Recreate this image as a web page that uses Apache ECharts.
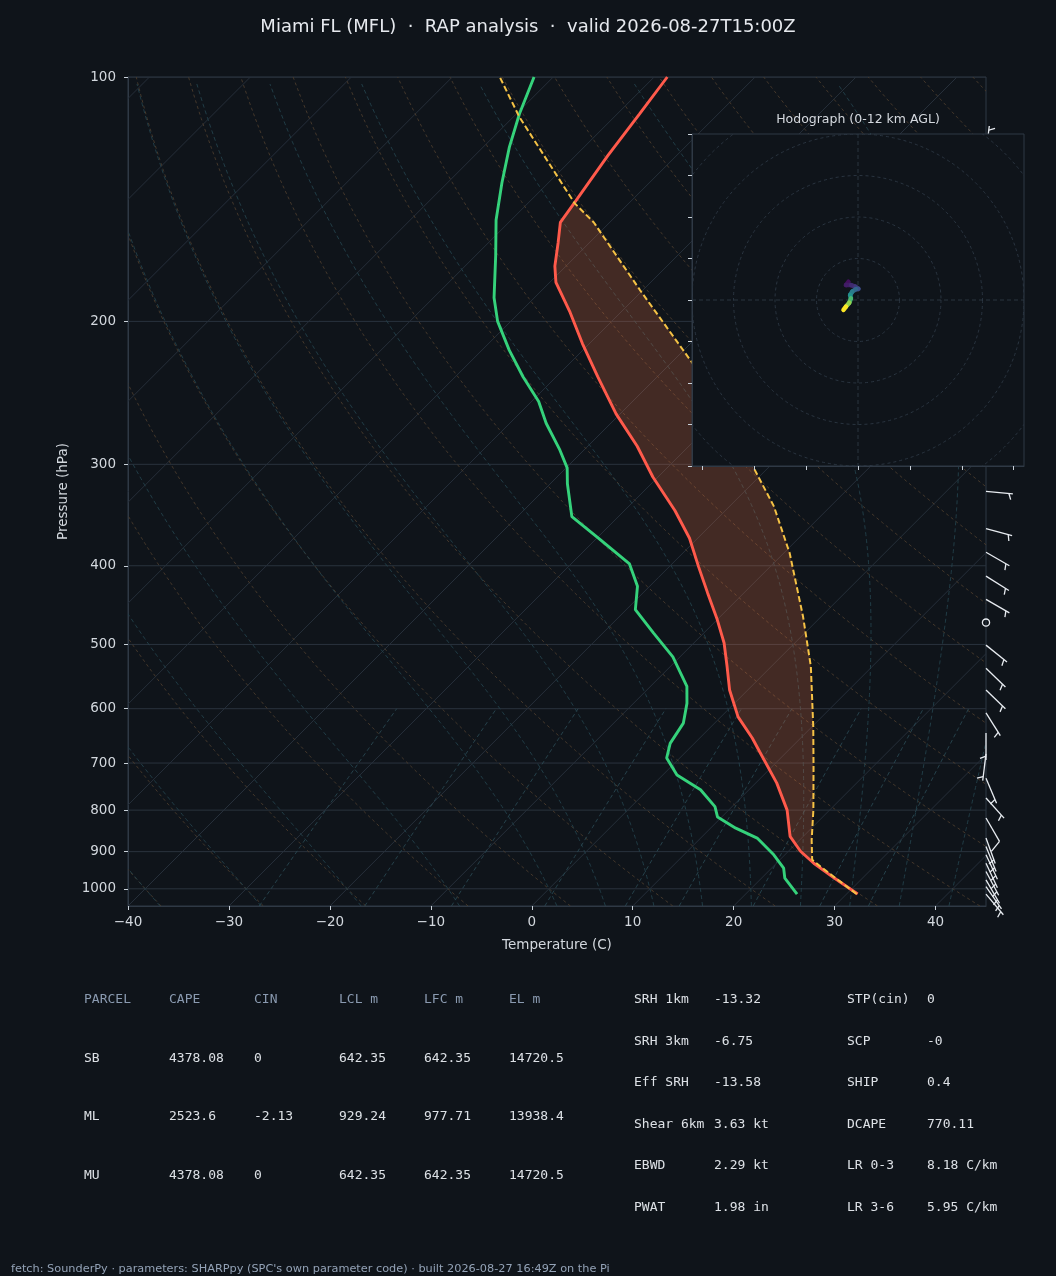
<!DOCTYPE html>
<html>
<head>
<meta charset="utf-8">
<title>Miami FL skew-T</title>
<script src="https://cdn.jsdelivr.net/npm/echarts@6/dist/echarts.min.js"></script>
<style>
  html, body { margin: 0; padding: 0; background: #0f141a; }
  #chart { width: 1056px; height: 1276px; }
</style>
</head>
<body>
<div id="chart"></div>
<script>
// ---- sounding (hPa / degC) ----
const tempP = [1015, 970, 930, 899, 862, 800, 741, 678, 652, 614, 569, 532, 498, 466, 432, 401, 370, 342, 311, 285, 260, 234, 213, 195, 179, 171, 160, 151, 142, 125, 111, 100];
const tempC = [31.1, 27.2, 23.7, 21.2, 18.7, 15.8, 12.1, 7.3, 5.2, 1.7, -1.8, -4.4, -7.0, -10.0, -13.6, -17.1, -20.8, -25.0, -30.5, -35.1, -40.4, -45.9, -50.7, -55.0, -59.4, -61.1, -63.1, -64.9, -65.5, -66.8, -67.8, -68.7];

const dewP = [1015, 970, 943, 908, 866, 842, 816, 792, 755, 724, 690, 662, 625, 591, 563, 518, 484, 453, 424, 398, 370, 348, 317, 303, 288, 267, 251, 234, 217, 200, 187, 166, 150, 135, 122, 111, 100];
const dewC = [25.1, 22.3, 21.2, 18.9, 15.6, 12.5, 9.6, 8.3, 5.2, 1.4, -1.3, -2.4, -3.1, -4.7, -6.4, -10.7, -15.0, -19.1, -21.2, -24.2, -29.8, -34.6, -38.3, -39.9, -42.4, -46.4, -49.3, -53.3, -57.3, -61.3, -64.0, -68.0, -71.5, -74.6, -77.4, -79.7, -81.9];

// surface-based parcel path
const parcelP = [1015, 939, 921, 871, 800, 707, 631, 532, 462, 386, 338, 302, 225, 183, 151, 143, 112, 100];
const parcelC = [31.0, 24.7, 23.2, 21.2, 18.4, 14.1, 10.1, 3.9, -1.8, -9.4, -15.6, -21.6, -37.9, -50.3, -61.6, -65.4, -79.4, -85.3];
const lfcP = 921;
const elP = 143;

// wind barbs (direction from, knots)
const windP   = [1015, 994, 975, 952, 930, 908, 887, 866, 818, 773, 731, 682, 643, 607, 569, 535, 501, 470, 440, 412, 385, 360, 324, 280, 250, 200, 150, 124];
const windDir = [140, 145, 150, 152, 155, 155, 158, 160, 150, 138, 157, 187, 180, 148, 134, 134, 129, 0, 120, 122, 120, 105, 95, 100, 105, 110, 130, 7];
const windKt  = [5, 5, 5, 5, 5, 5, 5, 5, 10, 5, 5, 5, 5, 5, 5, 5, 5, 0, 5, 5, 5, 5, 5, 5, 5, 5, 5, 5];

// hodograph, 0-12 km (kt)
const hodoU = [-2.3, -2.9, -1.7, -0.65, 0.1, -0.5, -1.4, -1.9, -1.7, -2.1, -2.9, -3.5];
const hodoV = [4.4, 3.6, 3.6, 3.2, 2.7, 2.6, 2.0, 1.2, 0.4, -0.65, -1.6, -2.4];
const hodoH = [0, 0.5, 1, 1.5, 2, 3, 4, 5, 6, 8, 10, 12];
const hodoRings = [10, 20, 30, 40, 50];

// axis ticks
const pressureTicks = [100, 200, 300, 400, 500, 600, 700, 800, 900, 1000];
const tempTicks = [-40, -30, -20, -10, 0, 10, 20, 30, 40];
const hodoTicksX = [-37.5, -25, -12.5, 0, 12.5, 25, 37.5];
const hodoTicksY = [-40, -30, -20, -10, 0, 10, 20, 30, 40];

// parameter tables
const parcelHeader = ['PARCEL', 'CAPE', 'CIN', 'LCL m', 'LFC m', 'EL m'];
const parcelRows = [
  ['SB', '4378.08', '0', '642.35', '642.35', '14720.5'],
  ['ML', '2523.6', '-2.13', '929.24', '977.71', '13938.4'],
  ['MU', '4378.08', '0', '642.35', '642.35', '14720.5']
];
const indexRows = [
  ['SRH 1km', '-13.32', 'STP(cin)', '0'],
  ['SRH 3km', '-6.75', 'SCP', '-0'],
  ['Eff SRH', '-13.58', 'SHIP', '0.4'],
  ['Shear 6km', '3.63 kt', 'DCAPE', '770.11'],
  ['EBWD', '2.29 kt', 'LR 0-3', '8.18 C/km'],
  ['PWAT', '1.98 in', 'LR 3-6', '5.95 C/km']
];

const titleText = 'Miami FL (MFL)  \u00b7  RAP analysis  \u00b7  valid 2026-08-27T15:00Z';
const footerText = "fetch: SounderPy \u00b7 parameters: SHARPpy (SPC's own parameter code) \u00b7 built 2026-08-27 16:49Z on the Pi";

// ---- layout ----
const BG = '#0f141a';
const FG = '#d3d8de';
const plot = { left: 128, top: 77, width: 858, height: 829 };
const hodoBox = { left: 692, top: 134, width: 332, height: 332 };
const TMIN = -40, TMAX = 45, PTOP = 100, PBOT = 1050;
// isotherms at 45 degrees on screen
const SKEW = (TMAX - TMIN) / plot.width * plot.height / Math.log10(PBOT / PTOP);

function skew(t, p) { return t + SKEW * Math.log10(PBOT / p); }
function pairs(ps, ts) { return ps.map((p, i) => [skew(ts[i], p), p]); }
function logLevels(p0, p1, n) {
  const out = [];
  for (let i = 0; i <= n; i++) out.push(p0 * Math.pow(p1 / p0, i / n));
  return out;
}

// ---- thermodynamic reference lines ----
function satVap(tc) { return 6.112 * Math.exp(17.67 * tc / (tc + 243.5)); }
function moistGrad(tk, p) {
  const e = satVap(tk - 273.15);
  const rs = 0.622 * e / (p - e);
  return (287.04 * tk + 2.501e6 * rs) /
    (1005.7 + 2.501e6 * 2.501e6 * rs * 0.622 / (287.04 * tk * tk)) / p;
}
function moistPath(t0) {
  const step = 2;
  const up = [];
  let tk = t0 + 273.15, p = 1000;
  while (p > PTOP) {
    up.push([p, tk]);
    const dp = -Math.min(step, p - PTOP);
    const k1 = moistGrad(tk, p);
    const k2 = moistGrad(tk + k1 * dp, p + dp);
    tk += 0.5 * (k1 + k2) * dp;
    p += dp;
  }
  up.push([p, tk]);
  const down = [];
  tk = t0 + 273.15; p = 1000;
  while (p < PBOT) {
    const dp = Math.min(step, PBOT - p);
    const k1 = moistGrad(tk, p);
    const k2 = moistGrad(tk + k1 * dp, p + dp);
    tk += 0.5 * (k1 + k2) * dp;
    p += dp;
    down.unshift([p, tk]);
  }
  return down.concat(up).filter((d, i) => i % 3 === 0).map(d => [skew(d[1] - 273.15, d[0]), d[0]]);
}
function dewFromMix(w, p) {
  const l = Math.log(w * p / (0.622 + w) / 6.112);
  return 243.5 * l / (17.67 - l);
}

const refStyle = {
  isobar:   { stroke: '#2a333e', lineWidth: 1 },
  isotherm: { stroke: '#262f3a', lineWidth: 1 },
  dry:      { stroke: '#4a3b2d', lineWidth: 0.9, lineDash: [3, 3] },
  moist:    { stroke: '#23414b', lineWidth: 0.9, lineDash: [4, 3] },
  mix:      { stroke: '#284650', lineWidth: 0.9, lineDash: [4, 3] }
};

const refLines = [];
pressureTicks.forEach(p => refLines.push({ kind: 'isobar', pts: [[TMIN, p], [TMAX, p]] }));
for (let t = -120; t <= 40; t += 10) {
  refLines.push({ kind: 'isotherm', pts: [[skew(t, PBOT), PBOT], [skew(t, PTOP), PTOP]] });
}
const refP = logLevels(PBOT, PTOP, 80);
for (let t0 = -40; t0 <= 200; t0 += 10) {
  refLines.push({ kind: 'dry', pts: refP.map(p => [skew((t0 + 273.15) * Math.pow(p / 1000, 0.2857) - 273.15, p), p]) });
}
[-40, -30, -20, -10, 0, 5, 10, 15, 20, 25, 30, 35, 40, 45].forEach(t0 => {
  refLines.push({ kind: 'moist', pts: moistPath(t0) });
});
[0.0004, 0.001, 0.002, 0.004, 0.007, 0.01, 0.016, 0.024, 0.032].forEach(w => {
  refLines.push({ kind: 'mix', pts: logLevels(PBOT, 600, 20).map(p => [skew(dewFromMix(w, p), p), p]) });
});

// ---- CAPE area (parcel up, environment back down) ----
const capeParcel = parcelP.map((p, i) => [p, parcelC[i]]).filter(d => d[0] <= lfcP && d[0] >= elP);
const capeEnv = tempP.map((p, i) => [p, tempC[i]]).filter(d => d[0] < lfcP && d[0] > elP).reverse();
const capeRing = capeParcel.concat(capeEnv).map(d => [skew(d[1], d[0]), d[0]]);

// viridis colour for hodograph height
const viridisStops = [[68, 1, 84], [59, 82, 139], [33, 145, 140], [94, 201, 98], [253, 231, 37]];
function viridis(f) {
  f = Math.max(0, Math.min(1, f)) * (viridisStops.length - 1);
  const i = Math.min(Math.floor(f), viridisStops.length - 2);
  const a = viridisStops[i], b = viridisStops[i + 1], k = f - i;
  return 'rgb(' + a.map((v, j) => Math.round(v + (b[j] - v) * k)).join(',') + ')';
}

function minusFmt(v) { return v < 0 ? '\u2212' + (-v) : String(v); }

const chart = echarts.init(document.getElementById('chart'));

const frameLine = { show: true, onZero: false, lineStyle: { color: '#2f3945' } };

const option = {
  backgroundColor: BG,
  animation: false,
  textStyle: { fontFamily: 'DejaVu Sans' },
  grid: [
    Object.assign({ show: true, borderColor: '#2f3945', borderWidth: 1, backgroundColor: 'transparent', z: 0 }, plot),
    Object.assign({ show: true, borderColor: '#2f3945', borderWidth: 1, backgroundColor: BG, z: 10 }, hodoBox)
  ],
  xAxis: [
    {
      gridIndex: 0, type: 'value', min: TMIN, max: TMAX,
      name: 'Temperature (C)', nameLocation: 'middle', nameGap: 32,
      nameTextStyle: { color: FG, fontSize: 13.5 },
      axisLine: frameLine,
      axisTick: { show: true, customValues: tempTicks, length: 4, lineStyle: { color: '#c9d1d9' } },
      axisLabel: { customValues: tempTicks, color: FG, fontSize: 13.5, margin: 9, formatter: minusFmt },
      splitLine: { show: false }
    },
    {
      gridIndex: 1, type: 'value', min: -40, max: 40, z: 11,
      axisLine: frameLine,
      axisTick: { show: true, customValues: hodoTicksX, length: 4, lineStyle: { color: '#c9d1d9' } },
      axisLabel: { show: false },
      splitLine: { show: false }
    }
  ],
  yAxis: [
    {
      gridIndex: 0, type: 'log', logBase: 10, min: PTOP, max: PBOT, inverse: true,
      name: 'Pressure (hPa)', nameLocation: 'middle', nameGap: 57, nameRotate: 90,
      nameTextStyle: { color: FG, fontSize: 13.5 },
      axisLine: frameLine,
      axisTick: { show: true, customValues: pressureTicks, length: 4, lineStyle: { color: '#c9d1d9' } },
      axisLabel: { customValues: pressureTicks, color: FG, fontSize: 13.5, margin: 12, formatter: v => String(Math.round(v)) },
      splitLine: { show: false }
    },
    {
      gridIndex: 1, type: 'value', min: -40, max: 40, z: 11,
      axisLine: frameLine,
      axisTick: { show: true, customValues: hodoTicksY, length: 4, lineStyle: { color: '#c9d1d9' } },
      axisLabel: { show: false },
      splitLine: { show: false }
    }
  ],
  series: [
    {
      // background: isobars, isotherms, adiabats, mixing ratio
      type: 'custom', xAxisIndex: 0, yAxisIndex: 0, clip: true, silent: true, z: 1,
      data: refLines.map(l => l.pts[0]),
      renderItem: function (params, api) {
        const l = refLines[params.dataIndex];
        return {
          type: 'polyline',
          shape: { points: l.pts.map(pt => api.coord(pt)) },
          style: Object.assign({ fill: 'none' }, refStyle[l.kind])
        };
      }
    },
    {
      type: 'custom', xAxisIndex: 0, yAxisIndex: 0, clip: true, silent: true, z: 2,
      data: [capeRing[0]],
      renderItem: function (params, api) {
        return {
          type: 'polygon',
          shape: { points: capeRing.map(pt => api.coord(pt)) },
          style: { fill: 'rgba(255, 122, 72, 0.22)', stroke: 'none' }
        };
      }
    },
    {
      name: 'Parcel', type: 'line', xAxisIndex: 0, yAxisIndex: 0, z: 4,
      data: pairs(parcelP, parcelC), symbol: 'none', silent: true,
      lineStyle: { color: '#f5c245', width: 2, type: [6, 3] }
    },
    {
      name: 'Dewpoint', type: 'line', xAxisIndex: 0, yAxisIndex: 0, z: 3,
      data: pairs(dewP, dewC), symbol: 'none', silent: true,
      lineStyle: { color: '#35d27b', width: 2.9 }
    },
    {
      name: 'Temperature', type: 'line', xAxisIndex: 0, yAxisIndex: 0, z: 3,
      data: pairs(tempP, tempC), symbol: 'none', silent: true,
      lineStyle: { color: '#ff5a4b', width: 2.9 }
    },
    {
      // wind barbs on the right edge
      type: 'custom', xAxisIndex: 0, yAxisIndex: 0, clip: false, silent: true, z: 3,
      data: windP.map(p => [TMAX, p]),
      renderItem: function (params, api) {
        const i = params.dataIndex;
        const base = api.coord([TMAX, windP[i]]);
        const style = { stroke: '#e8ecf1', lineWidth: 1.3, fill: 'none' };
        const spd = Math.round(windKt[i] / 5) * 5;
        if (spd === 0) {
          return { type: 'circle', shape: { cx: base[0], cy: base[1], r: 3.6 }, style: style };
        }
        const th = windDir[i] * Math.PI / 180;
        const d = [Math.sin(th), -Math.cos(th)];
        const r = [-d[1], d[0]];
        const L = 27, gap = 4;
        const tip = [base[0] + d[0] * L, base[1] + d[1] * L];
        const kids = [{ type: 'line', shape: { x1: base[0], y1: base[1], x2: tip[0], y2: tip[1] }, style: style }];
        const full = Math.floor(spd / 10), half = spd % 10 >= 5 ? 1 : 0;
        let s = (full === 0 && half) ? L - gap : L;
        const barb = function (len) {
          const px = base[0] + d[0] * s, py = base[1] + d[1] * s;
          kids.push({ type: 'line', style: style, shape: {
            x1: px, y1: py, x2: px + r[0] * len + d[0] * len * 0.38, y2: py + r[1] * len + d[1] * len * 0.38 } });
          s -= gap;
        };
        for (let k = 0; k < full; k++) barb(12);
        if (half) barb(6);
        return { type: 'group', children: kids };
      }
    },
    {
      // hodograph rings and cross-hairs
      type: 'custom', xAxisIndex: 1, yAxisIndex: 1, clip: true, silent: true, z: 12,
      data: hodoRings.map(k => [k, 0]),
      renderItem: function (params, api) {
        const c = api.coord([0, 0]);
        const e = api.coord([hodoRings[params.dataIndex], 0]);
        const kids = [{ type: 'circle', shape: { cx: c[0], cy: c[1], r: e[0] - c[0] },
          style: { fill: 'none', stroke: '#2c3844', lineWidth: 0.9, lineDash: [3, 3] } }];
        if (params.dataIndex === 0) {
          const a = api.coord([-40, 0]), b = api.coord([40, 0]);
          const u = api.coord([0, 40]), w = api.coord([0, -40]);
          const st = { stroke: '#2c3844', lineWidth: 0.9, lineDash: [4, 3] };
          kids.push({ type: 'line', shape: { x1: a[0], y1: a[1], x2: b[0], y2: b[1] }, style: st });
          kids.push({ type: 'line', shape: { x1: u[0], y1: u[1], x2: w[0], y2: w[1] }, style: st });
        }
        return { type: 'group', children: kids };
      }
    },
    {
      // hodograph trace coloured by height
      type: 'custom', xAxisIndex: 1, yAxisIndex: 1, clip: true, silent: true, z: 13,
      data: hodoU.map((u, i) => [u, hodoV[i]]),
      renderItem: function (params, api) {
        const i = params.dataIndex;
        if (i === 0) return null;
        const a = api.coord([hodoU[i - 1], hodoV[i - 1]]);
        const b = api.coord([hodoU[i], hodoV[i]]);
        return {
          type: 'line',
          shape: { x1: a[0], y1: a[1], x2: b[0], y2: b[1] },
          style: { stroke: viridis(hodoH[i] / 12), lineWidth: 4.5, lineCap: 'round' }
        };
      }
    }
  ],
  graphic: []
};

// ---- text: title, hodograph title, tables, footer ----
const g = option.graphic;
function txt(x, y, text, font, fill, align) {
  g.push({ type: 'text', x: x, y: y, z: 30, silent: true,
    style: { text: text, font: font, fill: fill, textAlign: align || 'left', textVerticalAlign: 'middle' } });
}
txt(528, 27, titleText, '18px "DejaVu Sans"', '#e6e9ee', 'center');
txt(858, 120, 'Hodograph (0-12 km AGL)', '12.5px "DejaVu Sans"', '#d5d9df', 'center');

const mono = '13px "DejaVu Sans Mono"';
const colX = [84, 169, 254, 339, 424, 509];
const rowY = [1000, 1059, 1117, 1176];
parcelHeader.forEach((h, j) => txt(colX[j], rowY[0], h, mono, '#8a9ab0'));
parcelRows.forEach((row, i) => row.forEach((v, j) => txt(colX[j], rowY[i + 1], v, mono, '#dde1e6')));

const idxX = [634, 714, 847, 927];
indexRows.forEach((row, i) => row.forEach((v, j) => txt(idxX[j], 1000 + i * 41.5, v, mono, '#dde1e6')));

txt(11, 1269, footerText, '11.3px "DejaVu Sans"', '#93a2b6');

chart.setOption(option);
window.addEventListener('resize', function () { chart.resize(); });
</script>
</body>
</html>
